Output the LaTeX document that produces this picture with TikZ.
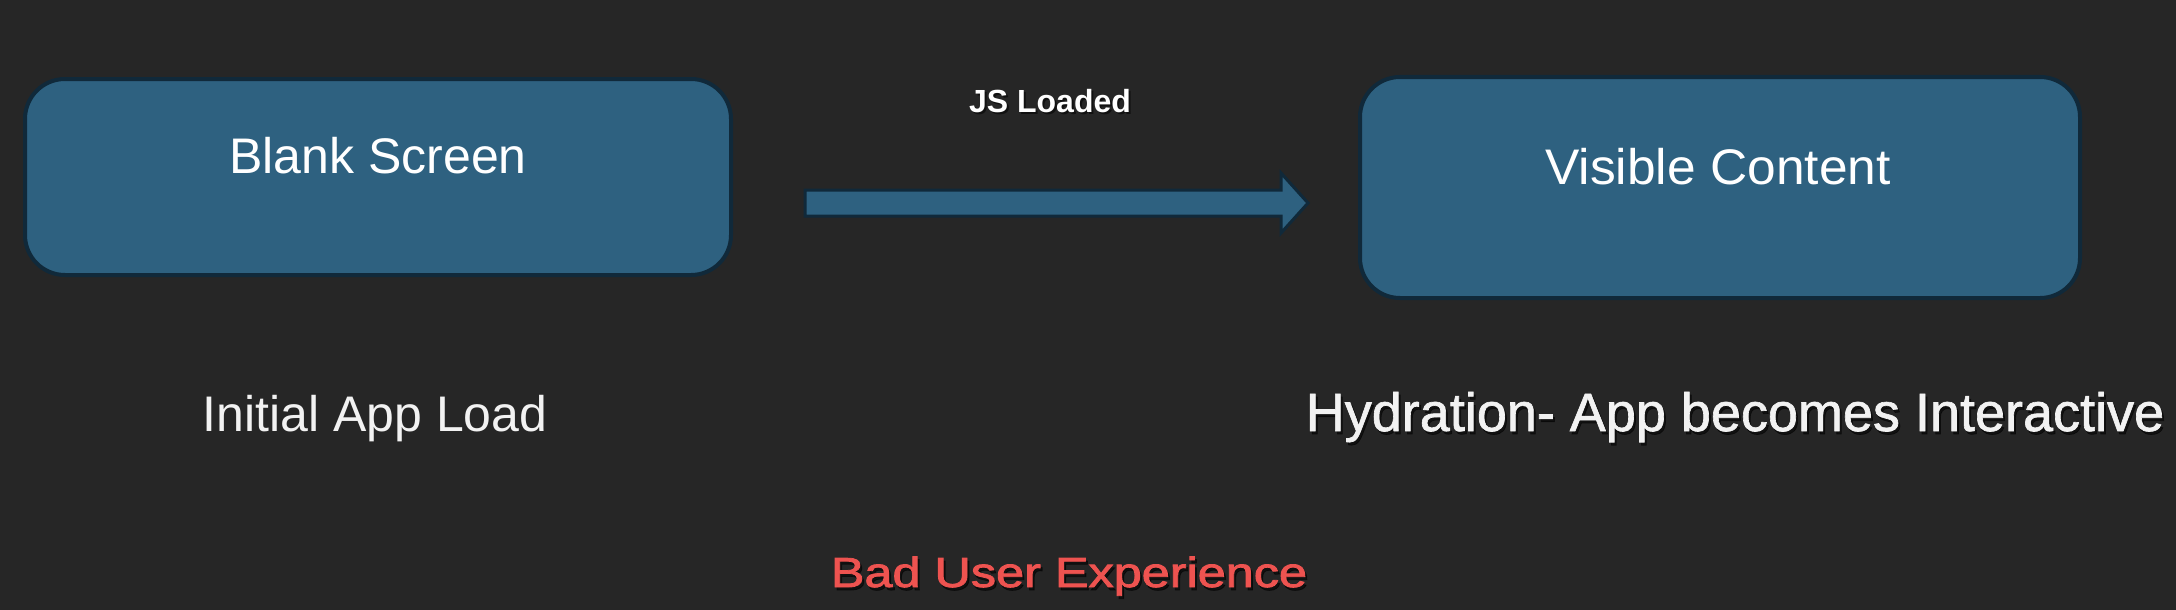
\documentclass[tikz,border=0pt]{standalone}
\usepackage{fontspec}
\setmainfont{Liberation Sans}
\newfontfamily\semib[FakeBold=1.2]{Liberation Sans}
\newfontfamily\semibb[FakeBold=1.8]{Liberation Sans}
\usetikzlibrary{calc}
\definecolor{bg}{HTML}{262626}
\definecolor{boxfill}{HTML}{2E6180}
\definecolor{boxline}{HTML}{10293A}
\definecolor{badred}{HTML}{EE5350}
\definecolor{softwhite}{HTML}{F2F2F2}
\begin{document}
\begin{tikzpicture}[x=1pt,y=-1pt,
  panel/.style={draw=boxline, line width=4pt, fill=boxfill, rounded corners=40pt, inner sep=0pt},
  lbl/.style={anchor=base, inner sep=0pt, text=white},
  shadowtxt/.style={anchor=base, inner sep=0pt, text=black, opacity=0.55},
  flow/.style={draw=boxline, line width=3pt, fill=boxfill, line join=miter}]
\fill[bg] (0,0) rectangle (2176,610);
\useasboundingbox (0,0) rectangle (2176,610);
% boxes
\node[panel, minimum width=706pt, minimum height=196pt] (blank) at (378,177) {};
\node[panel, minimum width=720pt, minimum height=221pt] (visible) at (1720,187.5) {};
\node[lbl] (blanktxt) at (378,173) {\fontsize{50pt}{50pt}\selectfont Blank Screen};
\node[lbl] (visibletxt) at (1718,184) {\fontsize{50pt}{50pt}\selectfont\scalebox{1.03}[1]{Visible Content}};
% arrow
\coordinate (as) at (805,203);
\coordinate (ae) at (1308,203);
\draw[flow] ($(as)+(0,-13)$) -- ($(ae)+(-27,-13)$) -- ($(ae)+(-27,-30)$) -- (ae)
  -- ($(ae)+(-27,30)$) -- ($(ae)+(-27,13)$) -- ($(as)+(0,13)$) -- cycle;
% JS Loaded
\node[shadowtxt] (jsshadow) at (1052,114) {\fontsize{32pt}{32pt}\selectfont\bfseries JS Loaded};
\node[lbl] (js) at (1050,112) {\fontsize{32pt}{32pt}\selectfont\bfseries JS Loaded};
% bottom labels
\node[lbl, text=softwhite] (initial) at (375,431) {\fontsize{50pt}{50pt}\selectfont Initial App Load};
\node[shadowtxt] (hydshadow) at (1737,434) {\fontsize{54pt}{54pt}\selectfont\semib Hydration- App becomes Interactive};
\node[lbl, text=softwhite] (hyd) at (1735,431) {\fontsize{54pt}{54pt}\selectfont\semib Hydration- App becomes Interactive};
\node[shadowtxt] (badshadow) at (1071,590) {\fontsize{42pt}{42pt}\selectfont\semibb\scalebox{1.2}[1]{Bad User Experience}};
\node[lbl, text=badred] (bad) at (1069,587) {\fontsize{42pt}{42pt}\selectfont\semibb\scalebox{1.2}[1]{Bad User Experience}};
\end{tikzpicture}
\end{document}
